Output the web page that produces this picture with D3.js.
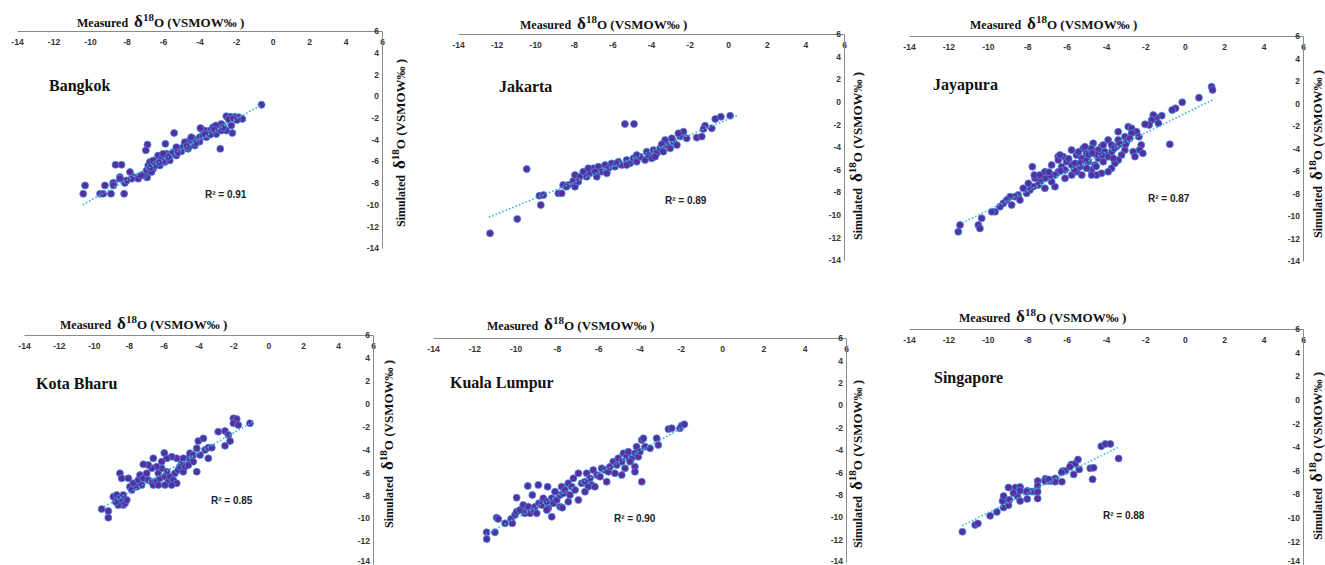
<!DOCTYPE html>
<html>
<head>
<meta charset="utf-8">
<script src="https://cdn.jsdelivr.net/npm/d3@7"></script>
<style>
  body { margin: 0; background: #fff; }
  .tick text { font-family: "Liberation Sans", Arial, sans-serif; font-weight: bold; font-size: 8.5px; fill: #333; }
  .serif { font-family: "Liberation Serif", "Times New Roman", serif; font-weight: bold; fill: #111; }
  .r2 { font-family: "Liberation Sans", Arial, sans-serif; font-weight: bold; font-size: 10px; fill: #222; }
</style>
</head>
<body>
<div id="chart"></div>
<script>
// station names and R2 labels
var stations = ["Bangkok", "Jakarta", "Jayapura", "Kota Bharu", "Kuala Lumpur", "Singapore"];
var r2Values = ["0.91", "0.89", "0.87", "0.85", "0.90", "0.88"];

// axis ticks (same for every panel)
var xTicks = [-14, -12, -10, -8, -6, -4, -2, 0, 2, 4, 6];
var yTicks = [6, 4, 2, 0, -2, -4, -6, -8, -10, -12, -14];

// linear trendlines
var trendSlope = [0.94, 0.70, 0.86, 0.87, 1.0, 0.84];
var trendIntercept = [-0.24, -1.54, -0.9, -0.82, -0.1, -1.18];
var trendFrom = [-10.4, -12.4, -11.3, -9.4, -11.45, -11.3];
var trendTo = [-0.6, 0.45, 1.4, -0.9, -1.8, -3.4];

// measured (x) vs simulated (y) d18O
var bangkokPts = [
  [-0.6,-0.8],[-2.53,-1.85],[-2.3,-1.9],[-2.05,-1.9],[-1.85,-1.95],[-1.65,-2.1],[-2.4,-2.15],[-2.15,-2.05],[-1.95,-2.2],
  [-2.26,-2.7],[-2.2,-3.4],[-2.86,-4.86],[-5.39,-3.4],[-5.87,-4.4],[-6.85,-4.47],[-6.94,-5.0],
  [-8.6,-6.33],[-8.27,-6.33],[-10.27,-8.23],[-10.37,-9.0],[-9.45,-9.0],[-9.27,-9.0],[-8.85,-9.0],[-8.13,-9.0],[-9.18,-8.23],[-8.69,-8.0],
  [-8.73,-8.0],[-8.36,-7.46],[-8.09,-8.0],[-7.81,-7.0],[-7.63,-7.46],[-7.36,-7.46],[-7.0,-7.16],[-6.87,-7.5],
  [-6.81,-6.39],[-6.72,-6.08],[-6.54,-5.93],[-6.36,-6.24],[-6.27,-5.48],[-6.08,-5.78],[-5.9,-6.08],[-5.81,-5.32],[-5.63,-5.48],
  [-5.45,-5.17],[-5.27,-5.48],[-5.08,-4.86],[-4.9,-4.71],[-4.72,-4.4],[-4.54,-4.1],[-4.35,-3.94],[-4.17,-4.1],[-3.99,-3.79],
  [-3.81,-3.64],[-3.63,-3.79],[-3.44,-3.18],[-3.26,-3.33],[-3.08,-3.03],[-2.9,-2.87],[-2.72,-2.72],[-2.53,-3.18],[-3.26,-2.87],
  [-3.9,-3.03],[-3.72,-3.18],[-4.26,-4.56],[-4.63,-4.86],[-5.17,-5.02],[-5.63,-5.93],[-6.17,-6.39],[-6.54,-6.7],[-5.99,-5.32],
  [-5.27,-4.71],[-4.81,-4.25],[-4.45,-3.79],[-3.54,-3.49],[-3.08,-3.49],[-2.81,-3.18],[-2.81,-2.57],
  [-6.9,-6.85],[-6.63,-7.0],[-7.08,-7.31],[-7.36,-7.61],[-7.72,-7.61],[-7.99,-7.77],[-8.36,-7.61],[-8.72,-8.23],
  [-6.45,-6.4],[-6.0,-6.05],[-5.5,-5.3],[-5.0,-5.1],[-4.6,-4.7],[-4.0,-4.2],[-3.4,-3.55],[-3.1,-2.7],[-3.95,-2.95],
  [-7.2,-7.3],[-6.7,-6.6],[-6.2,-6.1],[-5.7,-5.6],[-5.2,-5.2],[-4.7,-4.6],[-4.2,-4.3],[-3.7,-3.5],[-3.2,-3.1],[-2.7,-2.9]
];
var jakartaPts = [
  [-12.34,-11.64],[-10.93,-10.37],[-10.44,-5.95],[-9.78,-8.31],[-9.57,-8.25],[-9.71,-9.13],[-8.8,-8.1],[-8.63,-8.1],
  [-8.55,-7.36],[-8.29,-7.36],[-7.94,-7.51],[-8.03,-7.01],[-7.94,-6.48],[-7.68,-6.63],[-7.51,-6.18],[-7.33,-6.63],
  [-7.16,-6.33],[-6.99,-5.89],[-6.81,-6.63],[-6.73,-5.74],[-6.56,-6.18],[-6.38,-5.59],[-6.21,-5.89],[-6.04,-5.45],
  [-5.87,-5.74],[-5.69,-5.3],[-5.52,-5.59],[-5.26,-5.15],[-5.09,-5.45],[-4.91,-5.0],[-4.74,-5.3],[-4.57,-4.86],
  [-4.31,-5.15],[-4.13,-4.71],[-3.96,-5.0],[-3.87,-4.27],[-3.7,-4.56],[-3.53,-4.12],[-3.36,-4.41],[-3.18,-3.82],
  [-3.01,-4.12],[-2.84,-3.52],[-2.66,-3.82],[-2.49,-3.08],[-2.32,-2.64],[-2.15,-3.23],[-2.92,-3.23],[-3.27,-3.38],
  [-2.58,-2.79],[-5.35,-1.96],[-4.88,-1.96],[-1.63,-3.17],[-1.37,-3.08],[-1.2,-2.11],[-1.28,-2.41],[-0.85,-2.35],
  [-0.67,-1.52],[-0.38,-1.32],[0.1,-1.23],
  [-8.38,-7.51],[-7.77,-7.07],[-7.25,-5.89],[-6.9,-6.18],[-6.29,-6.33],[-5.78,-5.45],[-4.74,-4.71],[-3.79,-4.86],
  [-3.44,-3.76],[-4.22,-4.41],[-5.26,-5.59]
];
var jayapuraPts = [
  [1.36,1.49],[1.41,1.2],[0.72,0.52],[-0.13,0.11],[-0.47,-0.43],[-0.64,-0.58],[-0.76,-3.63],
  [-1.17,-1.08],[-1.43,-1.26],[-1.6,-1.02],[-1.68,-1.47],[-1.34,-1.76],[-1.81,-1.91],[-2.02,-1.85],
  [-2.87,-2.06],[-2.7,-2.21],[-2.45,-2.5],[-2.33,-2.95],[-2.21,-3.69],[-2.3,-4.13],[-2.13,-4.43],[-2.62,-4.28],[-2.53,-4.72],
  [-3.04,-2.95],[-2.96,-3.39],[-3.38,-3.24],[-3.47,-3.84],[-3.89,-3.24],[-3.72,-3.69],[-4.23,-3.84],[-4.06,-4.28],
  [-4.65,-3.54],[-4.74,-3.99],[-5.16,-3.99],[-4.99,-4.43],[-5.75,-4.13],[-5.5,-4.58],[-6.18,-4.72],[-6.43,-4.72],
  [-3.04,-4.13],[-3.21,-4.58],[-3.38,-5.02],[-3.55,-5.32],[-3.72,-5.76],[-3.89,-6.06],[-4.23,-6.21],[-4.48,-6.36],[-4.74,-5.91],
  [-4.39,-4.87],[-4.14,-5.17],[-4.56,-5.47],[-4.9,-5.17],[-4.98,-5.76],[-5.23,-6.36],[-5.49,-6.06],[-5.74,-5.47],
  [-6.0,-5.17],[-6.25,-5.62],[-6.42,-6.06],[-6.59,-6.36],[-6.84,-6.51],[-7.1,-6.65],[-7.35,-6.95],[-7.6,-6.65],
  [-7.74,-5.62],[-7.64,-6.36],[-7.44,-7.24],[-7.69,-7.39],[-7.86,-7.69],[-8.03,-7.98],[-8.2,-7.54],[-8.45,-8.13],
  [-8.62,-8.28],[-8.87,-8.28],[-9.04,-8.58],[-9.21,-8.87],[-9.38,-9.17],[-9.63,-9.62],[-9.8,-9.62],[-10.31,-10.2],
  [-10.48,-10.8],[-10.4,-11.1],[-11.41,-10.8],[-11.5,-11.4],
  [-6.08,-6.65],[-6.59,-7.39],[-7.1,-7.54],[-5.57,-5.32],[-5.23,-4.87],[-3.88,-4.73],[-4.39,-4.13],[-4.9,-4.58],
  [-5.32,-5.62],[-6.42,-5.02],[-6.76,-5.47],[-7.1,-6.06],[-7.35,-6.36],
  [-3.71,-4.28],[-4.48,-4.58],[-5.07,-3.84],[-6.34,-4.58],[-5.74,-6.36],[-4.73,-6.36],[-6.08,-5.91],[-6.76,-6.95],
  [-7.94,-7.1],[-8.37,-8.58],[-8.79,-9.02],[-3.38,-2.51],[-2.7,-2.65],[-3.63,-4.87],[-4.14,-3.69],
  [-5.9,-4.9],[-5.4,-4.3],[-4.7,-4.4],[-4.2,-4.6],[-3.6,-4.0],[-3.3,-3.6],[-5.0,-5.1],[-5.6,-5.9],[-6.3,-6.0],
  [-6.9,-6.1],[-2.8,-3.1],[-3.0,-3.6],[-4.5,-5.6],[-5.3,-5.3]
];
var kotaBharuPts = [
  [-9.55,-9.2],[-9.17,-9.37],[-9.17,-9.95],
  [-8.88,-8.12],[-8.69,-7.97],[-8.5,-8.26],[-8.4,-8.56],[-8.31,-8.85],[-8.21,-8.7],[-8.6,-8.85],[-8.74,-8.56],[-8.11,-8.41],[-8.31,-7.97],
  [-8.5,-6.08],[-8.4,-6.52],[-8.02,-6.52],
  [-7.93,-7.25],[-7.83,-7.54],[-7.54,-7.25],[-7.74,-6.95],[-7.45,-6.66],[-7.35,-6.23],[-7.16,-6.52],[-7.26,-7.1],
  [-6.97,-6.08],[-6.88,-6.66],[-6.68,-6.81],[-6.59,-7.1],[-6.4,-6.81],[-6.21,-6.52],[-6.3,-6.08],[-6.11,-5.64],
  [-5.92,-6.37],[-5.82,-5.94],[-5.73,-6.81],[-5.63,-6.37],[-5.44,-6.66],[-5.35,-6.08],[-5.16,-5.79],[-5.06,-5.5],
  [-4.96,-5.21],[-4.87,-5.94],[-4.77,-5.5],[-4.58,-4.77],[-4.49,-4.33],[-4.3,-4.48],[-4.1,-3.9],[-3.91,-4.48],
  [-4.01,-3.26],[-3.72,-3.03],[-3.63,-4.04],[-3.44,-3.84],[-3.24,-3.84],[-3.44,-4.77],[-2.87,-2.44],[-2.48,-2.38],
  [-2.29,-2.73],[-2.48,-3.67],[-2.19,-3.26],[-2.0,-1.28],[-1.81,-1.34],[-2.0,-1.71],[-1.72,-1.86],[-1.05,-1.71],
  [-4.1,-5.94],[-4.58,-5.35],[-5.25,-4.77],[-5.54,-4.63],[-5.82,-4.77],[-6.11,-5.06],[-6.4,-5.5],[-6.68,-5.64],
  [-6.88,-5.35],[-7.16,-5.29],[-6.59,-4.77],[-4.87,-4.77],[-4.3,-5.06],[-5.25,-6.95],[-5.54,-7.1],[-5.92,-7.1],[-6.3,-7.1],
  [-5.96,-4.3]
];
var kualaLumpurPts = [
  [-11.4,-11.35],[-11.4,-11.95],[-11.0,-11.35],[-10.92,-10.04],[-10.84,-10.16],[-10.51,-10.55],[-10.22,-10.16],
  [-10.16,-10.55],[-10.03,-9.8],[-9.95,-9.51],[-9.79,-9.36],[-9.95,-8.26],
  [-9.63,-8.91],[-9.46,-9.36],[-9.38,-9.06],[-9.55,-9.65],[-9.3,-9.65],[-9.14,-9.36],[-8.98,-9.65],[-9.06,-9.06],
  [-9.41,-7.21],[-8.9,-7.12],[-8.45,-7.28],[-9.19,-8.02],
  [-8.87,-8.76],[-8.66,-8.31],[-8.74,-8.91],[-8.49,-8.62],[-8.42,-9.21],[-8.25,-8.31],[-8.17,-8.76],[-8.01,-8.46],
  [-7.85,-8.02],[-7.77,-7.28],[-7.69,-7.87],[-7.61,-7.57],[-7.45,-6.97],[-7.37,-8.02],[-7.28,-7.28],[-7.2,-6.53],
  [-7.12,-7.57],[-6.96,-6.08],[-6.8,-6.97],[-6.64,-6.83],[-6.56,-6.08],[-6.4,-6.53],[-6.32,-7.12],[-6.24,-5.79],
  [-6.07,-6.23],[-5.91,-6.38],[-5.83,-5.64],[-5.67,-5.79],[-5.51,-5.94],[-5.43,-5.49],[-5.27,-5.04],[-5.1,-5.34],
  [-5.03,-4.74],[-4.86,-5.04],[-4.78,-4.3],[-4.62,-4.6],[-4.54,-4.15],[-4.38,-4.74],[-4.22,-4.3],[-4.14,-3.7],
  [-4.06,-4.6],[-3.98,-4.15],[-3.89,-3.11],[-3.81,-2.96],[-3.73,-3.7],[-3.49,-3.85],[-3.17,-2.96],[-3.09,-3.55],
  [-2.6,-2.13],[-2.44,-2.06],[-2.04,-2.06],[-1.96,-1.83],[-1.83,-1.71],
  [-4.22,-5.49],[-4.22,-5.94],[-3.89,-6.83],[-8.25,-9.96],[-7.45,-8.62],[-7.85,-9.06],[-8.49,-9.36],[-6.96,-8.46],
  [-6.48,-7.28],[-6.16,-7.28],[-5.59,-6.83],[-5.19,-6.08],[-4.7,-5.64],[-4.46,-5.04],[-4.86,-6.23],[-6.64,-7.72],
  [-8.09,-7.72],[-7.74,-9.15]
];
var singaporePts = [
  [-11.29,-11.18],[-10.64,-10.6],[-10.5,-10.48],[-9.88,-9.83],[-9.54,-9.5],[-9.2,-9.13],[-8.95,-8.93],[-9.25,-8.57],
  [-8.9,-8.48],[-9.2,-8.15],[-8.95,-7.44],[-8.6,-7.44],[-8.36,-7.39],[-8.5,-8.15],[-8.36,-8.57],[-8.36,-7.7],
  [-8.0,-7.7],[-8.0,-8.4],[-7.76,-7.78],[-7.64,-7.78],[-7.47,-6.88],[-7.47,-7.3],[-7.47,-7.8],[-7.47,-8.37],
  [-7.08,-6.7],[-7.0,-6.88],[-6.83,-6.88],[-6.58,-6.66],[-6.58,-6.94],[-6.24,-6.94],[-6.2,-6.04],[-6.07,-6.04],
  [-5.64,-6.32],[-5.76,-5.48],[-5.56,-5.42],[-5.42,-5.06],[-5.36,-5.9],[-4.8,-5.8],[-4.63,-5.76],[-4.68,-6.74],
  [-4.24,-3.93],[-4.03,-3.74],[-3.78,-3.74],[-3.36,-4.97],
  [-8.03,-7.79],[-7.1,-6.88],[-6.25,-6.15],[-5.83,-5.67],[-6.9,-6.75],[-8.7,-7.9]
];
var stationPts = [bangkokPts, jakartaPts, jayapuraPts, kotaBharuPts, kualaLumpurPts, singaporePts];

// panel layout in page pixels
var panels = [
  {x0: 17,  x1: 382,  y0: 31,  y1: 248, tx: 77,  ty: 27,  sx: 405,  sy: 227, nx: 49,  ny: 91,  rx: 205,  ry: 198},
  {x0: 458, x1: 844,  y0: 34,  y1: 260, tx: 520, ty: 29,  sx: 862,  sy: 240, nx: 499, ny: 92,  rx: 665,  ry: 204},
  {x0: 909, x1: 1303, y0: 36,  y1: 261, tx: 970, ty: 29,  sx: 1322, sy: 238, nx: 933, ny: 90,  rx: 1148, ry: 202},
  {x0: 24,  x1: 373,  y0: 335, y1: 564, tx: 60,  ty: 329, sx: 393,  sy: 528, nx: 36,  ny: 389, rx: 211,  ry: 504},
  {x0: 433, x1: 846,  y0: 338, y1: 562, tx: 487, ty: 330, sx: 862,  sy: 548, nx: 450, ny: 388, rx: 614,  ry: 522},
  {x0: 909, x1: 1303, y0: 329, y1: 565, tx: 959, ty: 322, sx: 1322, sy: 540, nx: 934, ny: 383, rx: 1103, ry: 519}
];
var pageH = 565;

var svg = d3.select("#chart").append("svg")
    .attr("width", 1325)
    .attr("height", pageH);

// "Measured  δ18O (VSMOW‰ )"
function axisTitle(sel, word) {
    sel.append("tspan").attr("font-size", 12).text(word);
    sel.append("tspan").attr("font-size", 17).attr("dx", 6).text("δ");
    sel.append("tspan").attr("font-size", 11).attr("dy", -6).text("18");
    sel.append("tspan").attr("font-size", 13).attr("dy", 6).text("O (VSMOW‰ )");
}

panels.forEach(function (p, i) {
    var x = d3.scaleLinear().domain([-14, 6]).range([p.x0, p.x1]);
    var y = d3.scaleLinear().domain([6, -14]).range([p.y0, p.y1]);
    var g = svg.append("g");

    // axes cross at (6, 6)
    g.append("g")
        .attr("transform", `translate(0,${y(6)})`)
        .call(d3.axisBottom(x).tickValues(xTicks).tickSize(0).tickPadding(8).tickFormat(d => String(d)));
    var yAxis = g.append("g")
        .attr("transform", `translate(${x(6)},0)`)
        .call(d3.axisLeft(y).tickValues(yTicks).tickSize(0).tickPadding(3).tickFormat(d => String(d)));
    g.selectAll(".domain").attr("stroke", "#8a8a8a").attr("stroke-width", 1);

    // keep the lowest tick label inside the page
    yAxis.selectAll(".tick text")
        .attr("y", d => Math.min(0, pageH - 4 - y(d)));

    // points
    g.append("g").selectAll("circle")
        .data(stationPts[i])
        .join("circle")
        .attr("cx", d => x(d[0]))
        .attr("cy", d => y(d[1]))
        .attr("r", 3.5)
        .attr("fill", "#5b2c9f")
        .attr("stroke", "#3a8fdc")
        .attr("stroke-width", 0.8);

    // dotted trendline
    var ends = [trendFrom[i], trendTo[i]].map(v => [v, trendSlope[i] * v + trendIntercept[i]]);
    g.append("path")
        .attr("d", d3.line().x(d => x(d[0])).y(d => y(d[1]))(ends))
        .attr("fill", "none")
        .attr("stroke", "#3db5d8")
        .attr("stroke-width", 1.6)
        .attr("stroke-dasharray", "1.6,2");

    // titles
    g.append("text").attr("class", "serif")
        .attr("x", p.tx).attr("y", p.ty)
        .call(axisTitle, "Measured");
    g.append("text").attr("class", "serif")
        .attr("transform", `translate(${p.sx},${p.sy}) rotate(-90)`)
        .call(axisTitle, "Simulated");

    g.append("text").attr("class", "serif")
        .attr("x", p.nx).attr("y", p.ny)
        .attr("font-size", 16)
        .text(stations[i]);

    g.append("text").attr("class", "r2")
        .attr("x", p.rx).attr("y", p.ry)
        .text("R² = " + r2Values[i]);
});
</script>
</body>
</html>
